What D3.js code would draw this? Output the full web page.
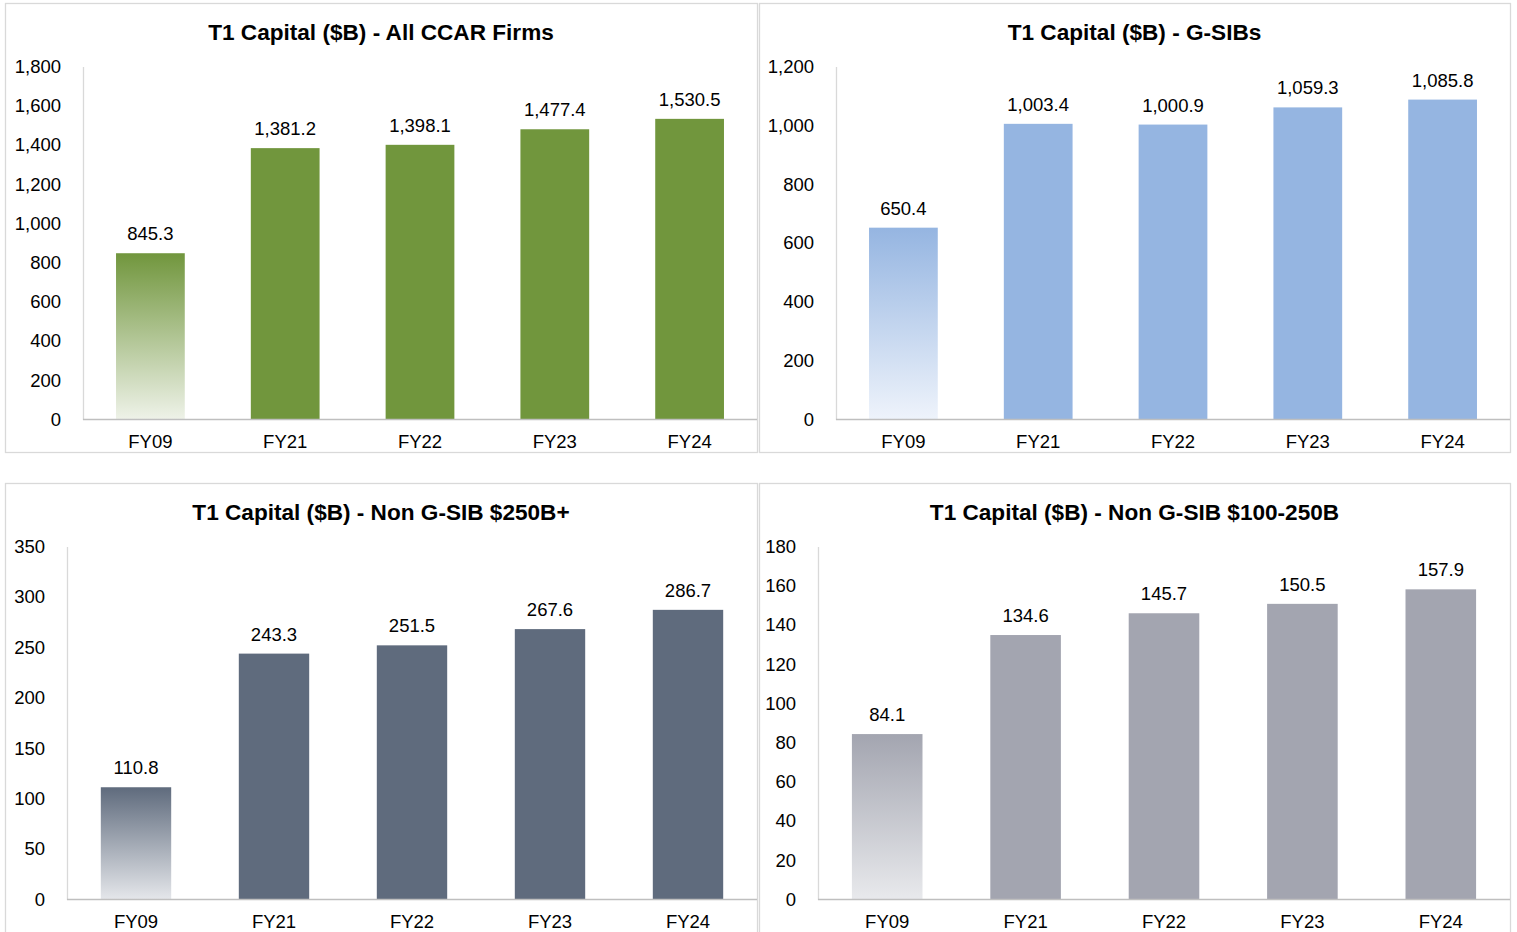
<!DOCTYPE html>
<html>
<head>
<meta charset="utf-8">
<script src="https://cdn.jsdelivr.net/npm/d3@7"></script>
<style>
  html, body { margin: 0; padding: 0; background: #fff; }
  svg { display: block; font-family: Arial, "Liberation Sans", sans-serif; }
</style>
</head>
<body>
<svg id="chart" width="1517" height="932"></svg>
<script>
// ---- data ----
const categories = ["FY09", "FY21", "FY22", "FY23", "FY24"];
const titles = [
  "T1 Capital ($B) - All CCAR Firms",
  "T1 Capital ($B) - G-SIBs",
  "T1 Capital ($B) - Non G-SIB $250B+",
  "T1 Capital ($B) - Non G-SIB $100-250B"
];
const allCcarValues = [845.3, 1381.2, 1398.1, 1477.4, 1530.5];
const gsibValues = [650.4, 1003.4, 1000.9, 1059.3, 1085.8];
const nonGsib250Values = [110.8, 243.3, 251.5, 267.6, 286.7];
const nonGsib100Values = [84.1, 134.6, 145.7, 150.5, 157.9];
const allCcarTicks = [0, 200, 400, 600, 800, 1000, 1200, 1400, 1600, 1800];
const gsibTicks = [0, 200, 400, 600, 800, 1000, 1200];
const nonGsib250Ticks = [0, 50, 100, 150, 200, 250, 300, 350];
const nonGsib100Ticks = [0, 20, 40, 60, 80, 100, 120, 140, 160, 180];

// ---- layout / styling ----
const panels = [
  { title: titles[0], values: allCcarValues, ticks: allCcarTicks, color: "#71963D", light: "#EEF2E8",
    box: [5, 3, 752, 449], axisX: 83, top: 66, base: 419 },
  { title: titles[1], values: gsibValues, ticks: gsibTicks, color: "#95B5E1", light: "#EEF3FB",
    box: [759, 3, 751, 449], axisX: 836, top: 66, base: 419 },
  { title: titles[2], values: nonGsib250Values, ticks: nonGsib250Ticks, color: "#5F6B7D", light: "#E4E6EA",
    box: [5, 483, 752, 460], axisX: 67, top: 546, base: 899 },
  { title: titles[3], values: nonGsib100Values, ticks: nonGsib100Ticks, color: "#A3A5B0", light: "#E8E9EC",
    box: [759, 483, 751, 460], axisX: 818, top: 546, base: 899 }
];

const svg = d3.select("#chart");
const defs = svg.append("defs");
const fmtTick = d3.format(",");
const fmtVal = d3.format(",.1f");
const fs = "18.5px";

panels.forEach((p, i) => {
  const [bx, by, bw, bh] = p.box;
  const g = svg.append("g");

  g.append("rect")
    .attr("x", bx + 0.5).attr("y", by + 0.5)
    .attr("width", bw).attr("height", bh)
    .attr("fill", "#fff").attr("stroke", "#D9D9D9").attr("stroke-width", 1.3);

  g.append("text")
    .attr("x", bx + bw / 2).attr("y", by + 36.5)
    .attr("text-anchor", "middle")
    .attr("font-weight", "bold").attr("font-size", "22.6px")
    .attr("fill", "#000")
    .text(p.title);

  const right = bx + bw;
  const x = d3.scaleBand().domain(categories).range([p.axisX, right])
    .paddingInner(0.49).paddingOuter(0.245);
  const y = d3.scaleLinear().domain([0, d3.max(p.ticks)]).range([p.base, p.top]);

  // gradient for first bar
  const gid = "grad" + i;
  const grad = defs.append("linearGradient").attr("id", gid)
    .attr("x1", 0).attr("y1", 0).attr("x2", 0).attr("y2", 1);
  grad.append("stop").attr("offset", "0%").attr("stop-color", p.color);
  grad.append("stop").attr("offset", "100%").attr("stop-color", p.light);

  // y axis
  const yAxis = d3.axisLeft(y).tickValues(p.ticks).tickFormat(fmtTick).tickSize(0).tickPadding(22);
  const ya = g.append("g").attr("transform", `translate(${p.axisX},0.5)`).call(yAxis);
  ya.select(".domain").attr("stroke", "#D9D9D9").attr("stroke-width", 1.3);
  ya.selectAll("text").attr("font-size", fs).attr("fill", "#000")
    .attr("font-family", 'Arial, "Liberation Sans", sans-serif');

  // bars
  g.selectAll("rect.bar").data(p.values).enter().append("rect")
    .attr("class", "bar")
    .attr("x", (d, j) => x(categories[j]))
    .attr("y", d => y(d))
    .attr("width", x.bandwidth())
    .attr("height", d => y(0) - y(d))
    .attr("fill", (d, j) => j === 0 ? `url(#${gid})` : p.color);

  // value labels
  g.selectAll("text.val").data(p.values).enter().append("text")
    .attr("class", "val")
    .attr("x", (d, j) => x(categories[j]) + x.bandwidth() / 2)
    .attr("y", d => y(d) - 13)
    .attr("text-anchor", "middle")
    .attr("font-size", fs).attr("fill", "#000")
    .text(d => fmtVal(d));

  // x axis baseline and labels
  const xAxis = d3.axisBottom(x).tickSize(0).tickPadding(16);
  const xa = g.append("g").attr("transform", `translate(0,${p.base})`).call(xAxis);
  xa.select(".domain").remove();
  xa.selectAll("text").attr("font-size", fs).attr("fill", "#000")
    .attr("font-family", 'Arial, "Liberation Sans", sans-serif');
  g.append("line")
    .attr("x1", p.axisX).attr("x2", right)
    .attr("y1", p.base + 0.5).attr("y2", p.base + 0.5)
    .attr("stroke", "#BFBFBF").attr("stroke-width", 1.3);
});
</script>
</body>
</html>
